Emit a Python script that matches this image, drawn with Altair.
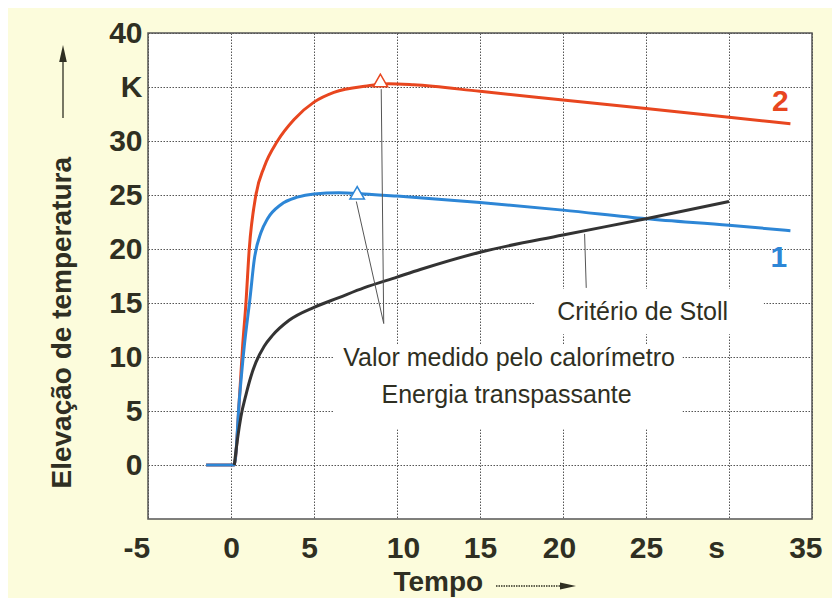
import altair as alt
import pandas as pd

# ---------------- data ----------------
# Curve 2 (red)
red_x = [-1.5, 0.2, 0.5, 0.7, 0.9, 1.1, 1.5, 2.0, 2.8, 3.8, 5.0, 6.2, 8.2, 9.5, 11.0, 15.0, 20.0, 25.0, 30.0, 33.7]
red_y = [0.0, 0.0, 6.0, 11.0, 15.0, 20.0, 25.0, 27.6, 30.0, 32.0, 33.6, 34.5, 35.1, 35.3, 35.2, 34.6, 33.8, 33.0, 32.2, 31.6]
# Curve 1 (blue)
blue_x = [-1.5, 0.2, 0.5, 0.8, 1.15, 1.4, 1.8, 2.2, 3.0, 4.0, 5.0, 6.5, 8.0, 10.0, 15.0, 20.0, 25.0, 30.0, 33.7]
blue_y = [0.0, 0.0, 6.0, 11.0, 15.5, 19.0, 21.5, 22.8, 24.1, 24.8, 25.1, 25.2, 25.1, 24.9, 24.3, 23.6, 22.8, 22.2, 21.7]
# Critério de Stoll (black)
stoll_x = [0.2, 0.4, 0.6, 0.9, 1.2, 1.5, 2.0, 2.5, 3.5, 5.0, 6.5, 8.0, 10.0, 11.4, 15.0, 20.0, 25.0, 30.0]
stoll_y = [0.0, 2.5, 4.5, 6.5, 8.2, 9.5, 11.0, 12.0, 13.4, 14.6, 15.5, 16.4, 17.4, 18.1, 19.7, 21.3, 22.8, 24.4]

# measured calorimeter values (triangles)
tri_x = [9.0, 7.6]
tri_y = [35.6, 25.2]
tri_series = ["2", "1"]

# leader lines (from, to)
lead_x = [9.05, 7.55, 21.3]
lead_y = [34.8, 24.4, 21.4]
lead_x2 = [9.2, 9.2, 21.4]
lead_y2 = [13.1, 13.1, 16.4]

# annotation texts
ann_text = ["Critério de Stoll", "Valor medido pelo calorímetro", "Energia transpassante"]
ann_x = [24.8, 16.75, 16.6]
ann_y = [14.2, 9.9, 6.5]

# white label backgrounds (grid is interrupted behind the texts)
box_x = [18.25, 6.2]
box_x2 = [32.1, 27.2]
box_y = [16.3, 11.1]
box_y2 = [12.1, 3.3]

# series labels
lab_text = ["2", "1"]
lab_x = [33.1, 33.0]
lab_y = [33.6, 19.2]

x_ticks = [-5, 0, 5, 10, 15, 20, 25, 30, 35]
y_ticks = [0, 5, 10, 15, 20, 25, 30, 35, 40]

# ---------------- styling ----------------
TXT = "#2f2f22"
RED = "#e8461f"
BLUE = "#2d86d6"
BLACK = "#333333"
FONT = "Liberation Sans"

series_dom = ["2", "1", "S"]
series_rng = [RED, BLUE, BLACK]

curves = pd.concat([
    pd.DataFrame({"x": red_x, "y": red_y, "s": "2"}),
    pd.DataFrame({"x": blue_x, "y": blue_y, "s": "1"}),
    pd.DataFrame({"x": stoll_x, "y": stoll_y, "s": "S"}),
])
tris = pd.DataFrame({"x": tri_x, "y": tri_y, "s": tri_series})
leads = pd.DataFrame({"x": lead_x, "y": lead_y, "x2": lead_x2, "y2": lead_y2})
anns = pd.DataFrame({"x": ann_x, "y": ann_y, "t": ann_text})
boxes = pd.DataFrame({"x": box_x, "x2": box_x2, "y": box_y, "y2": box_y2})
labs = pd.DataFrame({"x": lab_x, "y": lab_y, "t": lab_text, "s": lab_text})

xscale = alt.Scale(domain=[-5, 35], nice=False, zero=False)
yscale = alt.Scale(domain=[-5, 40], nice=False, zero=False)

xaxis = alt.Axis(
    values=x_ticks,
    labelExpr="datum.value == 30 ? 's' : datum.value == -5 ? '-5' : datum.label",
    labelOffset={"expr": "datum.value == -5 ? -25 : datum.value == 35 ? 10 : datum.value == 30 ? -13 : datum.value == 5 ? -5 : datum.value == 10 ? 6 : datum.value == 20 ? -4 : 0"},
    grid=True, ticks=False, domain=False,
    labelFontSize=30, labelFont=FONT, labelColor=TXT, labelPadding=14, labelFontWeight="bold",
    gridColor="#555555", gridDash=[1.5, 1.5], gridWidth=1,
    title="Tempo", titleFont=FONT, titleFontSize=28, titleFontWeight="bold",
    titleColor=TXT, titleX=245, titleY=71, titleAlign="left",
    titleBaseline="alphabetic", titleAngle=0,
)
yaxis = alt.Axis(
    values=y_ticks,
    labelExpr="datum.value == 35 ? 'K' : datum.label",
    grid=True, ticks=False, domain=False,
    labelFontSize=30, labelFont=FONT, labelColor=TXT, labelPadding=6, labelFontWeight="bold",
    gridColor="#555555", gridDash=[1.5, 1.5], gridWidth=1,
    title="Elevação de temperatura", titleFont=FONT, titleFontSize=28,
    titleFontWeight="bold", titleColor=TXT, titleX=-78, titleY=455,
    titleAngle=270, titleAlign="left", titleBaseline="alphabetic",
)

X = alt.X("x:Q", scale=xscale, axis=xaxis)
Y = alt.Y("y:Q", scale=yscale, axis=yaxis)
color = alt.Color("s:N", scale=alt.Scale(domain=series_dom, range=series_rng), legend=None)

box_layer = alt.Chart(boxes).mark_rect(color="white").encode(
    x=X, x2="x2:Q", y=Y, y2="y2:Q")

line_layer = alt.Chart(curves).mark_line(strokeWidth=3, interpolate="monotone").encode(
    x=X, y=Y, color=color, detail="s:N")

lead_layer = alt.Chart(leads).mark_rule(color="#555555", strokeWidth=1).encode(
    x=X, y=Y, x2="x2:Q", y2="y2:Q")

tri_layer = alt.Chart(tris).mark_point(shape="triangle-up", filled=True, fill="white",
                                       strokeWidth=1.5, size=210, opacity=1).encode(
    x=X, y=Y, stroke=alt.Stroke("s:N", scale=alt.Scale(domain=series_dom, range=series_rng), legend=None))

ann_layer = alt.Chart(anns).mark_text(font=FONT, fontSize=25, color=TXT,
                                      align="center", baseline="middle").encode(
    x=X, y=Y, text="t:N")

lab_layer = alt.Chart(labs).mark_text(font=FONT, fontSize=30, fontWeight="bold",
                                      align="center", baseline="middle").encode(
    x=X, y=Y, text="t:N", color=color)

# axis-title arrows (decoration outside the plot)
y_arrow_line = alt.Chart(pd.DataFrame({"a": [0]})).mark_rule(color=TXT, strokeWidth=1.3).encode(
    x=alt.value(-85), y=alt.value(85), y2=alt.value(24))
y_arrow_head = alt.Chart(pd.DataFrame({"a": [0]})).mark_point(
    shape="M0,-1L0.45,1L-0.45,1Z", filled=True, color=TXT, size=289, opacity=1).encode(
    x=alt.value(-85), y=alt.value(20.5))
x_arrow_line = alt.Chart(pd.DataFrame({"a": [0]})).mark_rule(color=TXT, strokeWidth=1.3, strokeDash=[1.5, 1]).encode(
    x=alt.value(348), x2=alt.value(412), y=alt.value(553))
x_arrow_head = alt.Chart(pd.DataFrame({"a": [0]})).mark_point(
    shape="M1,0L-1,-0.45L-1,0.45Z", filled=True, color=TXT, size=256, opacity=1).encode(
    x=alt.value(420), y=alt.value(553))

chart = alt.layer(
    box_layer, line_layer, lead_layer, tri_layer, ann_layer, lab_layer,
    y_arrow_line, y_arrow_head, x_arrow_line, x_arrow_head,
).resolve_scale(color="shared").properties(
    width=664, height=486,
    autosize=alt.AutoSizeParams(type="none"),
    padding={"left": 140, "top": 25, "right": 20, "bottom": 79},
    background="#fcfcdc",
).configure_view(
    fill="white", stroke="#555555", strokeWidth=1.5,
)

chart.save("out.html", embed_options={"renderer": "svg", "actions": False})
